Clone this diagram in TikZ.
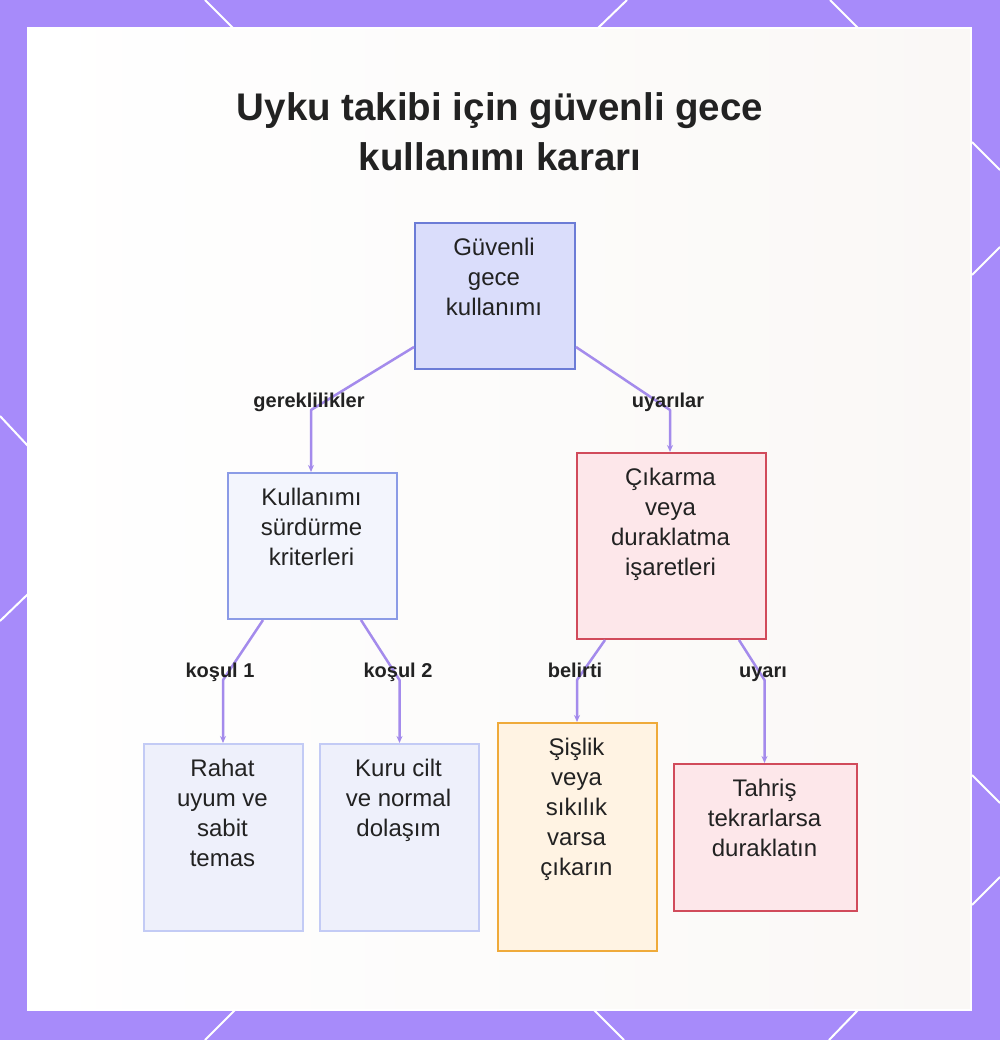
\documentclass[tikz,border=0pt]{standalone}
\usepackage{fontspec}
\setmainfont{Liberation Sans}
\usetikzlibrary{arrows.meta}
\definecolor{frame}{HTML}{A78BFA}
\definecolor{panel}{HTML}{FAF8F6}
\definecolor{edgec}{HTML}{A48BEC}
\definecolor{ink}{HTML}{222222}
\definecolor{rootfill}{HTML}{DADDFB}
\definecolor{rootdraw}{HTML}{6C7CD6}
\definecolor{midfill}{HTML}{F3F5FD}
\definecolor{middraw}{HTML}{8B9BE6}
\definecolor{leaffill}{HTML}{EEF0FB}
\definecolor{leafdraw}{HTML}{C3CBF5}
\definecolor{redfill}{HTML}{FDE7EA}
\definecolor{reddraw}{HTML}{D14B5B}
\definecolor{orafill}{HTML}{FFF3E3}
\definecolor{oradraw}{HTML}{EFAA3A}
\tikzset{
  boxbase/.style={rectangle, anchor=north west, line width=2pt, inner sep=0pt},
  rootbox/.style={boxbase, fill=rootfill, draw=rootdraw},
  midbox/.style={boxbase, fill=midfill, draw=middraw},
  leafbox/.style={boxbase, fill=leaffill, draw=leafdraw},
  redbox/.style={boxbase, fill=redfill, draw=reddraw},
  orabox/.style={boxbase, fill=orafill, draw=oradraw},
  boxtext/.style={anchor=north, inner sep=0pt, align=center, text=ink, font=\fontsize{24}{30}\selectfont},
  edgelabel/.style={anchor=base, inner sep=0pt, text=ink, font=\fontsize{20}{24}\selectfont\bfseries},
  titletext/.style={anchor=base, inner sep=0pt, text=ink, font=\fontsize{38.5}{50}\selectfont\bfseries},
  edge/.style={draw=edgec, line width=2.5pt, line join=round, -{Stealth[length=7pt,width=6pt]}},
  deco/.style={draw=white, line width=2pt}
}
\begin{document}
\begin{tikzpicture}[x=1pt,y=-1pt]
\useasboundingbox (0,0) rectangle (1000,1040);
\fill[frame] (0,0) rectangle (1000,1040);
% decorative diagonal lines on frame
\draw[deco] (205,0) -- (233,28);
\draw[deco] (627,0) -- (598,28);
\draw[deco] (830,0) -- (858,28);
\draw[deco] (0,416) -- (28,446);
\draw[deco] (0,621) -- (28,594);
\draw[deco] (972,142) -- (1000,170);
\draw[deco] (972,275) -- (1000,247);
\draw[deco] (972,775) -- (1000,803);
\draw[deco] (972,905) -- (1000,877);
\draw[deco] (235,1010) -- (205,1040);
\draw[deco] (594,1010) -- (624,1040);
\draw[deco] (858,1010) -- (829,1040);
% panel
\shade[left color=white, right color=panel] (28,28) rectangle (971,1010);
\draw[draw=white, line width=1.5pt] (28,28) rectangle (971,1010);

% title
\node[titletext] (t1) at (500,121) {Uyku takibi için güvenli gece};
\node[titletext] (t2) at (500,171) {kullanımı kararı};

% boxes
\node[rootbox, minimum width=160pt, minimum height=146pt] (root) at (414,222) {};
\node[boxtext] (rootT) at (494,237.5) {Güvenli\\gece\\kullanımı};

\node[midbox, minimum width=169pt, minimum height=146pt] (kri) at (227,472) {};
\node[boxtext] (kriT) at (311.5,487.5) {Kullanımı\\sürdürme\\kriterleri};

\node[redbox, minimum width=189pt, minimum height=186pt] (cik) at (576,452) {};
\node[boxtext] (cikT) at (670.5,467.5) {Çıkarma\\veya\\duraklatma\\işaretleri};

\node[leafbox, minimum width=159pt, minimum height=187pt] (rah) at (143,743) {};
\node[boxtext] (rahT) at (222.5,758.5) {Rahat\\uyum ve\\sabit\\temas};

\node[leafbox, minimum width=159pt, minimum height=187pt] (kur) at (319,743) {};
\node[boxtext] (kurT) at (398.5,758.5) {Kuru cilt\\ve normal\\dolaşım};

\node[orabox, minimum width=159pt, minimum height=228pt] (sis) at (497,722) {};
\node[boxtext] (sisT) at (576.5,737.5) {Şişlik\\veya\\sıkılık\\varsa\\çıkarın};

\node[redbox, minimum width=183pt, minimum height=147pt] (tah) at (673,763) {};
\node[boxtext] (tahT) at (764.5,778.5) {Tahriş\\tekrarlarsa\\duraklatın};

% bend points
\coordinate (b1) at (311,410);
\coordinate (b2) at (670,410);
\coordinate (b3) at (223,680);
\coordinate (b4) at (399.5,680);
\coordinate (b5) at (577,680);
\coordinate (b6) at (764.5,680);

% connectors
\draw[edge] ([yshift=23pt]root.south west) -- (b1) -- (b1 |- kri.north);
\draw[edge] ([yshift=23pt]root.south east) -- (b2) -- (b2 |- cik.north);
\draw[edge] ([xshift=36pt]kri.south west) -- (b3) -- (b3 |- rah.north);
\draw[edge] ([xshift=-37pt]kri.south east) -- (b4) -- (b4 |- kur.north);
\draw[edge] ([xshift=29pt]cik.south west) -- (b5) -- (b5 |- sis.north);
\draw[edge] ([xshift=-28pt]cik.south east) -- (b6) -- (b6 |- tah.north);

% edge labels
\node[edgelabel] (l1) at (309,407) {gereklilikler};
\node[edgelabel] (l2) at (668,407) {uyarılar};
\node[edgelabel] (l3) at (220,677) {koşul 1};
\node[edgelabel] (l4) at (398,677) {koşul 2};
\node[edgelabel] (l5) at (575,677) {belirti};
\node[edgelabel] (l6) at (763,677) {uyarı};
\end{tikzpicture}
\end{document}
